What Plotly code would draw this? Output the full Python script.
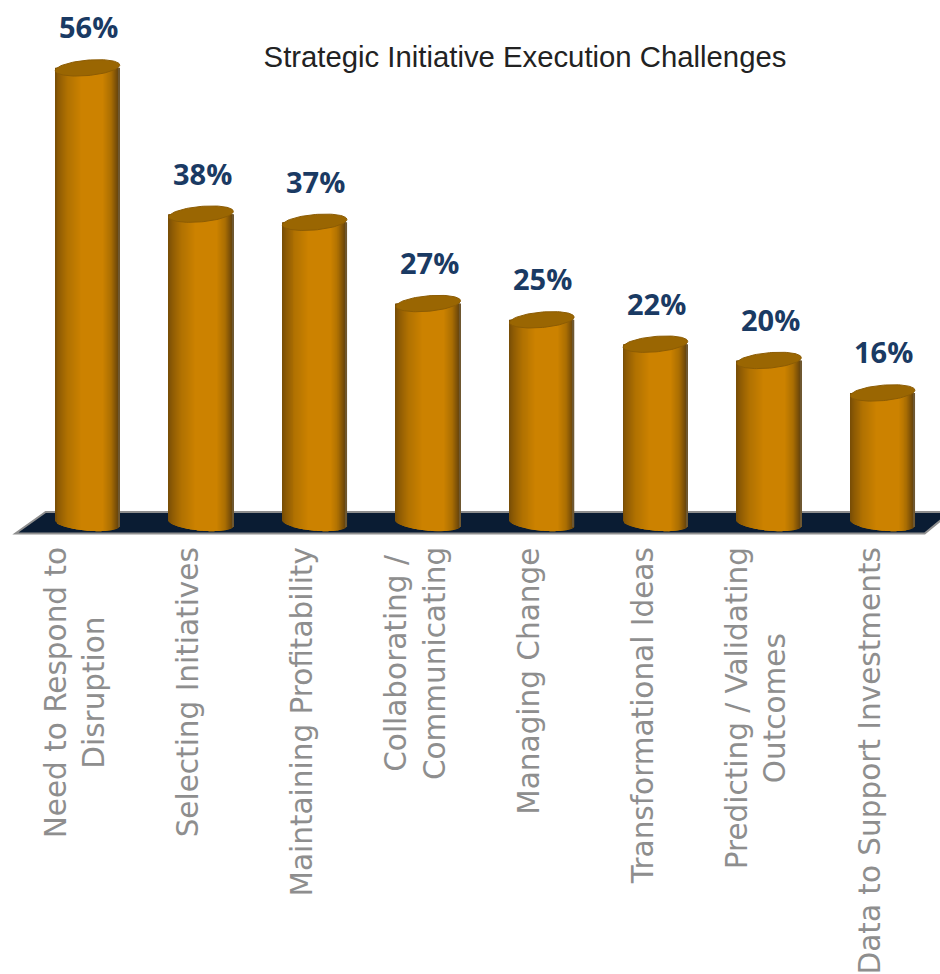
import numpy as np
import plotly.graph_objects as go

categories = [
    "Need to Respond to<br>Disruption",
    "Selecting Initiatives",
    "Maintaining Profitability",
    "Collaborating /<br>Communicating",
    "Managing Change",
    "Transformational Ideas",
    "Predicting / Validating<br>Outcomes",
    "Data to Support Investments",
]
values = [56, 38, 37, 27, 25, 22, 20, 16]

# Cylinder geometry in axis units
RADIUS = 0.284
CAP_HEIGHT = 0.95
CAP_TILT = 0.34
SLICES = 66

# Side shading across the cylinder, left edge to right edge
shade_pos = [0.0, 0.06, 0.2, 0.42, 0.75, 0.88, 0.975, 0.99, 1.0]
shade_rgb = [
    (118, 76, 6), (140, 90, 4), (176, 113, 1), (204, 130, 0),
    (204, 130, 0), (170, 110, 2), (110, 72, 10), (100, 72, 24), (140, 134, 122),
]


def shade(t):
    return "rgb(%d,%d,%d)" % tuple(
        int(round(np.interp(t, shade_pos, [c[i] for c in shade_rgb]))) for i in range(3)
    )


fig = go.Figure()
step = 2 * RADIUS / SLICES
for i, v in enumerate(values):
    offs = -RADIUS + step * (np.arange(SLICES) + 0.5)
    # Lower outline of the base follows the ellipse arc
    arc = CAP_HEIGHT * np.sqrt(1 - (offs / RADIUS) ** 2) + CAP_TILT * offs / RADIUS
    fig.add_trace(go.Bar(
        x=i + offs,
        y=v + arc,
        base=-arc,
        width=step * 1.3,
        marker=dict(color=[shade((o + RADIUS) / (2 * RADIUS)) for o in offs], line_width=0),
        showlegend=False,
        hoverinfo="skip",
    ))
    t = np.linspace(0, 2 * np.pi, 90)
    fig.add_trace(go.Scatter(
        x=i + RADIUS * np.cos(t),
        y=v + CAP_HEIGHT * np.sin(t) + CAP_TILT * np.cos(t),
        mode="lines",
        fill="toself",
        fillcolor="#9a6602",
        line=dict(color="#8c5c04", width=1),
        showlegend=False,
        hoverinfo="skip",
    ))

annotations = []
for i, (label, v) in enumerate(zip(categories, values)):
    annotations.append(dict(
        x=i, y=v, xref="x", yref="y", text=f"<b>{v}%</b>", showarrow=False,
        xshift=1, yshift=41, xanchor="center", yanchor="middle",
        font=dict(family="Open Sans", size=29, color="#1a3a63"),
    ))
    annotations.append(dict(
        x=i, y=-2.75, xref="x", yref="y", text=label, showarrow=False,
        textangle=-90, xshift=-13, xanchor="center", yanchor="top", align="center",
        font=dict(family="DejaVu Sans", size=29.5, color="#8e8e8e"),
    ))

# Dark floor the cylinders stand on
floor_path = "M -0.368 1.35 L 7.6 1.35 L 7.37 -1.3 L -0.634 -1.3 Z"

fig.update_layout(
    width=940,
    height=974,
    margin=dict(l=0, r=0, t=0, b=0),
    paper_bgcolor="white",
    plot_bgcolor="white",
    barmode="overlay",
    title=dict(
        text="Strategic Initiative Execution Challenges",
        x=525 / 940, y=1 - 57 / 974, xanchor="center", yanchor="middle",
        font=dict(family="Liberation Sans", size=29.3, color="#222222"),
    ),
    xaxis=dict(range=[-0.77, 7.505], visible=False),
    yaxis=dict(range=[-55.5, 64.35], visible=False),
    annotations=annotations,
    shapes=[dict(
        type="path", path=floor_path, xref="x", yref="y", layer="below",
        fillcolor="#0a1c33", line=dict(color="#8f8f8f", width=2),
    )],
)

fig.write_html("out.html")
